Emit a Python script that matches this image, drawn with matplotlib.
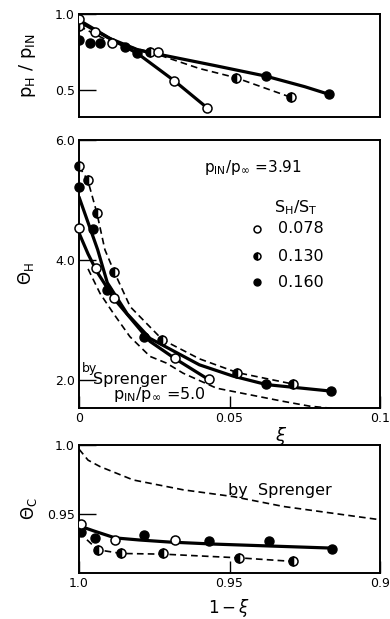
import numpy as np
import matplotlib
matplotlib.use("Agg")
import matplotlib.pyplot as plt

# --- top panel: p_H / p_IN vs xi ---
top_xi_open = [0, 0.0053, 0.011, 0.0263, 0.0316, 0.0426]
top_p_open = [0.97, 0.88, 0.81, 0.75, 0.56, 0.38]
top_xi_half = [0, 0.0235, 0.052, 0.0704]
top_p_half = [0.92, 0.75, 0.58, 0.45]
top_xi_fill = [0, 0.0037, 0.007, 0.0153, 0.0194, 0.062, 0.083]
top_p_fill = [0.83, 0.81, 0.81, 0.785, 0.745, 0.59, 0.47]

top_line_open_xi = [0, 0.011, 0.0194, 0.0316, 0.0426]
top_line_open_p = [0.96, 0.83, 0.74, 0.56, 0.38]
top_line_fill_xi = [0, 0.01, 0.02, 0.03, 0.045, 0.062, 0.075, 0.083]
top_line_fill_p = [0.95, 0.84, 0.76, 0.72, 0.66, 0.59, 0.52, 0.47]
top_line_half_xi = [0, 0.01, 0.0235, 0.04, 0.052, 0.0704]
top_line_half_p = [0.92, 0.82, 0.75, 0.64, 0.58, 0.45]

# --- middle panel: Theta_H vs xi ---
mid_xi_open = [0, 0.0055, 0.0117, 0.032, 0.0432]
mid_th_open = [4.53, 3.87, 3.37, 2.36, 2.01]
mid_xi_half = [0, 0.0029, 0.0059, 0.0117, 0.0277, 0.0526, 0.071]
mid_th_half = [5.56, 5.33, 4.79, 3.80, 2.67, 2.12, 1.93]
mid_xi_fill = [0, 0.0048, 0.0094, 0.0216, 0.062, 0.0837]
mid_th_fill = [5.21, 4.51, 3.49, 2.72, 1.93, 1.82]

mid_line_open_xi = [0, 0.003, 0.006, 0.0117, 0.0236, 0.032, 0.0432]
mid_line_open_th = [4.45, 4.1, 3.8, 3.35, 2.64, 2.35, 2.0]
mid_line_fill_xi = [0, 0.0062, 0.0094, 0.016, 0.0236, 0.04, 0.0513, 0.0623, 0.084]
mid_line_fill_th = [5.05, 4.17, 3.62, 3.1, 2.69, 2.25, 2.06, 1.92, 1.81]
mid_line_half_xi = [0, 0.0029, 0.0059, 0.0086, 0.0117, 0.017, 0.0277, 0.04, 0.0526, 0.071]
mid_line_half_th = [5.56, 5.33, 4.79, 4.17, 3.80, 3.22, 2.67, 2.35, 2.12, 1.93]
mid_spr_xi = [0.003, 0.007, 0.0114, 0.0169, 0.0236, 0.029, 0.0346, 0.0457, 0.0568, 0.0679, 0.0767, 0.085]
mid_spr_th = [3.85, 3.44, 3.11, 2.72, 2.39, 2.28, 2.11, 1.86, 1.75, 1.64, 1.56, 1.52]

# --- bottom panel: Theta_C vs 1 - xi ---
bot_xi_open = [0.0007, 0.012, 0.0319]
bot_th_open = [0.9425, 0.931, 0.931]
bot_xi_fill = [0.0007, 0.0053, 0.0216, 0.0432, 0.0632, 0.084]
bot_th_fill = [0.9365, 0.9324, 0.9343, 0.930, 0.9304, 0.9246]
bot_xi_half = [0.0062, 0.014, 0.028, 0.0533, 0.0712]
bot_th_half = [0.9235, 0.9212, 0.9212, 0.918, 0.9154]

bot_line_xi = [0, 0.005, 0.012, 0.02, 0.03, 0.045, 0.065, 0.084]
bot_line_th = [0.9413, 0.9375, 0.9325, 0.931, 0.9295, 0.928, 0.9265, 0.9251]
bot_line_half_xi = [0, 0.0062, 0.014, 0.028, 0.0533, 0.0712]
bot_line_half_th = [0.9365, 0.9239, 0.9212, 0.9207, 0.918, 0.9154]
bot_spr_xi = [0, 0.003, 0.007, 0.018, 0.0347, 0.0513, 0.068, 0.084, 0.1]
bot_spr_th = [0.997, 0.989, 0.9843, 0.9746, 0.9674, 0.9625, 0.9553, 0.9505, 0.9457]

ms = 6.5
dash = (0, (4, 2.5))
open_kw = dict(ls="none", marker="o", ms=ms, mfc="white", mec="black", mew=1.1, zorder=5)
half_kw = dict(ls="none", marker="o", ms=ms, mfc="black", mec="black", mew=1.1,
               fillstyle="left", markerfacecoloralt="white", zorder=5)
fill_kw = dict(ls="none", marker="o", ms=ms, mfc="black", mec="black", zorder=5)
solid_kw = dict(color="black", lw=2.3, solid_capstyle="round")
dash_kw = dict(color="black", lw=1.2, ls=dash)

def frame(ax):
    for s in ax.spines.values():
        s.set_linewidth(1.4)
    ax.tick_params(direction="in", labelsize=9, width=1, pad=3)
    ax.tick_params(axis="y", length=12)
    ax.tick_params(axis="x", length=9)

fig = plt.figure(figsize=(3.9, 6.19), dpi=100)
L, W = 0.2026, 0.7718
ax1 = fig.add_axes([L, 0.811, W, 0.1664])
ax2 = fig.add_axes([L, 0.3409, W, 0.4329])
ax3 = fig.add_axes([L, 0.0743, W, 0.2068])
ax3.patch.set_alpha(0)

# top
ax1.plot(top_line_open_xi, top_line_open_p, **solid_kw)
ax1.plot(top_line_fill_xi, top_line_fill_p, **solid_kw)
ax1.plot(top_line_half_xi, top_line_half_p, **dash_kw)
ax1.plot(top_xi_fill, top_p_fill, **fill_kw)
ax1.plot(top_xi_half, top_p_half, **half_kw)
ax1.plot(top_xi_open, top_p_open, **open_kw)
ax1.set_xlim(0, 0.1)
ax1.set_ylim(0.32, 1.0)
ax1.set_yticks([0.5, 1.0])
ax1.set_yticklabels(["0.5", "1.0"])
ax1.set_xticks([])
ax1.set_ylabel(r"$\mathrm{p_H\ /\ p_{IN}}$", fontsize=13, labelpad=12)
frame(ax1)

# middle
ax2.plot(mid_line_open_xi, mid_line_open_th, **solid_kw)
ax2.plot(mid_line_fill_xi, mid_line_fill_th, **solid_kw)
ax2.plot(mid_line_half_xi, mid_line_half_th, **dash_kw)
ax2.plot(mid_spr_xi, mid_spr_th, **dash_kw)
ax2.plot(mid_xi_fill, mid_th_fill, clip_on=False, **fill_kw)
ax2.plot(mid_xi_half, mid_th_half, clip_on=False, **half_kw)
ax2.plot(mid_xi_open, mid_th_open, clip_on=False, **open_kw)
ax2.set_xlim(0, 0.1)
ax2.set_ylim(1.53, 6.0)
ax2.set_yticks([2.0, 4.0, 6.0])
ax2.set_yticklabels(["2.0", "4.0", "6.0"])
ax2.set_xticks([0, 0.05, 0.1])
ax2.set_xticklabels(["0", "0.05", "0.1"])
ax2.set_ylabel(r"$\Theta_\mathrm{H}$", fontsize=12, labelpad=14)
ax2.set_xlabel(r"$\xi$", fontsize=13)
ax2.xaxis.set_label_coords(0.67, -0.065)
frame(ax2)

ax2.text(0.415, 0.896, r"$\mathrm{p_{IN}/p_{\infty}}$ =3.91", transform=ax2.transAxes,
         fontsize=11, va="center")
ax2.text(0.72, 0.746, r"$\mathrm{S_H/S_T}$", transform=ax2.transAxes,
         fontsize=11.5, va="center", ha="center")
labels = ["0.078", "0.130", "0.160"]
rows = [0.668, 0.567, 0.470]
kws = [open_kw, half_kw, fill_kw]
for lab, yy, kw in zip(labels, rows, kws):
    k = dict(kw)
    k["ms"] = 5
    ax2.plot([0.591], [yy], transform=ax2.transAxes, **k)
    ax2.text(0.661, yy, lab, transform=ax2.transAxes, fontsize=11.5, va="center")
ax2.text(0.01, 0.146, "by", transform=ax2.transAxes, fontsize=9, va="center")
ax2.text(0.046, 0.108, "Sprenger", transform=ax2.transAxes, fontsize=11.5, va="center")
ax2.text(0.113, 0.052, r"$\mathrm{p_{IN}/p_{\infty}}$ =5.0", transform=ax2.transAxes,
         fontsize=11.5, va="center")

# bottom
ax3.plot(1 - np.array(bot_line_xi), bot_line_th, **solid_kw)
ax3.plot(1 - np.array(bot_line_half_xi), bot_line_half_th, **dash_kw)
ax3.plot(1 - np.array(bot_spr_xi), bot_spr_th, **dash_kw)
ax3.plot(1 - np.array(bot_xi_fill), bot_th_fill, **fill_kw)
ax3.plot(1 - np.array(bot_xi_half), bot_th_half, **half_kw)
ax3.plot(1 - np.array(bot_xi_open), bot_th_open, **open_kw)
ax3.set_xlim(1.0, 0.9)
ax3.set_ylim(0.907, 1.0)
ax3.set_yticks([0.95, 1.0])
ax3.set_yticklabels(["0.95", "1.0"])
ax3.set_xticks([1.0, 0.95, 0.9])
ax3.set_xticklabels(["1.0", "0.95", "0.9"])
ax3.set_ylabel(r"$\Theta_\mathrm{C}$", fontsize=12, labelpad=6)
ax3.set_xlabel(r"$\mathrm{1-}\xi$", fontsize=12)
ax3.xaxis.set_label_coords(0.5, -0.19)
ax3.text(0.495, 0.648, "by  Sprenger", transform=ax3.transAxes, fontsize=11.5, va="center")
frame(ax3)

fig.savefig("out.png", dpi=100)
